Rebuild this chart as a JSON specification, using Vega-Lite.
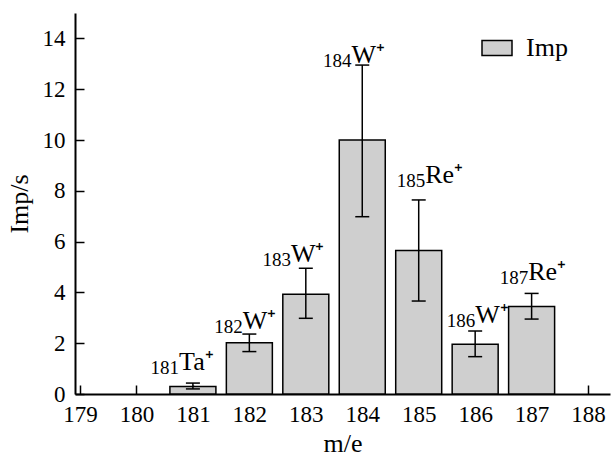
{
  "$schema": "https://vega.github.io/schema/vega-lite/v6.json",
  "width": 535,
  "height": 381,
  "autosize": {"type": "none"},
  "padding": {"left": 75, "top": 13, "right": 3, "bottom": 63},
  "background": "white",
  "config": {
    "view": {"stroke": null},
    "axis": {
      "domainColor": "black",
      "domainWidth": 2,
      "tickColor": "black",
      "tickWidth": 1.5,
      "labelFont": "Liberation Serif",
      "labelFontSize": 23,
      "labelColor": "black",
      "labelOverlap": false,
      "labelFlush": false,
      "titleFont": "Liberation Serif",
      "titleFontSize": 26,
      "titleFontWeight": "normal",
      "titleColor": "black",
      "grid": false,
      "zindex": 1
    },
    "legend": {
      "orient": "none",
      "legendX": 406,
      "legendY": 19,
      "symbolType": "M-1,-0.5H1V0.5H-1Z",
      "symbolSize": 900,
      "symbolStrokeColor": "black",
      "symbolStrokeWidth": 1.5,
      "symbolOpacity": 1,
      "labelFont": "Liberation Serif",
      "labelFontSize": 26,
      "labelColor": "black",
      "labelOffset": 13
    }
  },
  "datasets": {
    "bars": [
      {"me": 181, "imp": 0.30, "lo": 0.2, "hi": 0.43, "series": "Imp"},
      {"me": 182, "imp": 2.02, "lo": 1.67, "hi": 2.36, "series": "Imp"},
      {"me": 183, "imp": 3.93, "lo": 2.98, "hi": 4.95, "series": "Imp"},
      {"me": 184, "imp": 10.0, "lo": 6.98, "hi": 12.95, "series": "Imp"},
      {"me": 185, "imp": 5.65, "lo": 3.66, "hi": 7.64, "series": "Imp"},
      {"me": 186, "imp": 1.96, "lo": 1.47, "hi": 2.48, "series": "Imp"},
      {"me": 187, "imp": 3.44, "lo": 2.95, "hi": 3.96, "series": "Imp"}
    ],
    "labels": [
      {"me": 180.755, "y": 0.94, "mass": "181", "ion": "Ta⁺"},
      {"me": 181.885, "y": 2.56, "mass": "182", "ion": "W⁺"},
      {"me": 182.736, "y": 5.2, "mass": "183", "ion": "W⁺"},
      {"me": 183.81, "y": 13.03, "mass": "184", "ion": "W⁺"},
      {"me": 185.116, "y": 8.31, "mass": "185", "ion": "Re⁺"},
      {"me": 186.0, "y": 2.8, "mass": "186", "ion": "W⁺"},
      {"me": 186.94, "y": 4.49, "mass": "187", "ion": "Re⁺"}
    ]
  },
  "layer": [
    {
      "data": {"name": "bars"},
      "mark": {"type": "bar", "width": 46, "stroke": "black", "strokeWidth": 1.5, "fillOpacity": 1},
      "encoding": {
        "x": {
          "field": "me", "type": "quantitative", "title": "m/e",
          "scale": {"domain": [179, 188.3], "nice": false, "zero": false},
          "axis": {
            "values": [179, 179.5, 180, 180.5, 181, 181.5, 182, 182.5, 183, 183.5, 184, 184.5, 185, 185.5, 186, 186.5, 187, 187.5, 188],
            "labelExpr": "datum.value % 1 === 0 ? format(datum.value, 'd') : ''",
            "tickSize": {"condition": {"test": "datum.value % 1 === 0", "value": -9}, "value": -6},
            "labelPadding": 18,
            "titlePadding": 4
          }
        },
        "y": {
          "field": "imp", "type": "quantitative", "title": "Imp/s",
          "scale": {"domain": [0, 15], "nice": false},
          "axis": {
            "values": [0, 1, 2, 3, 4, 5, 6, 7, 8, 9, 10, 11, 12, 13, 14, 15],
            "labelExpr": "datum.value % 2 === 0 && datum.value < 15 ? format(datum.value, 'd') : ''",
            "tickSize": {"condition": {"test": "datum.value % 2 === 0", "value": -9}, "value": -6},
            "labelPadding": 19,
            "titlePadding": 10
          }
        },
        "fill": {
          "field": "series", "type": "nominal",
          "scale": {"range": ["#cfcfcf"]},
          "legend": {"title": null}
        }
      }
    },
    {
      "data": {"name": "bars"},
      "mark": {"type": "rule", "color": "black", "strokeWidth": 1.5},
      "encoding": {
        "x": {"field": "me", "type": "quantitative", "title": "m/e"},
        "y": {"field": "lo", "type": "quantitative", "title": "Imp/s"},
        "y2": {"field": "hi"}
      }
    },
    {
      "data": {"name": "bars"},
      "mark": {"type": "tick", "orient": "horizontal", "size": 14, "thickness": 1.5, "color": "black", "opacity": 1},
      "encoding": {
        "x": {"field": "me", "type": "quantitative", "title": "m/e"},
        "y": {"field": "lo", "type": "quantitative", "title": "Imp/s"}
      }
    },
    {
      "data": {"name": "bars"},
      "mark": {"type": "tick", "orient": "horizontal", "size": 14, "thickness": 1.5, "color": "black", "opacity": 1},
      "encoding": {
        "x": {"field": "me", "type": "quantitative", "title": "m/e"},
        "y": {"field": "hi", "type": "quantitative", "title": "Imp/s"}
      }
    },
    {
      "data": {"name": "labels"},
      "mark": {"type": "text", "align": "right", "baseline": "alphabetic", "fontSize": 19, "dy": 4, "font": "Liberation Serif", "color": "black"},
      "encoding": {
        "x": {"field": "me", "type": "quantitative", "title": "m/e"},
        "y": {"field": "y", "type": "quantitative", "title": "Imp/s"},
        "text": {"field": "mass"}
      }
    },
    {
      "data": {"name": "labels"},
      "mark": {"type": "text", "align": "left", "baseline": "alphabetic", "fontSize": 26, "font": "Liberation Serif", "color": "black"},
      "encoding": {
        "x": {"field": "me", "type": "quantitative", "title": "m/e"},
        "y": {"field": "y", "type": "quantitative", "title": "Imp/s"},
        "text": {"field": "ion"}
      }
    }
  ]
}
